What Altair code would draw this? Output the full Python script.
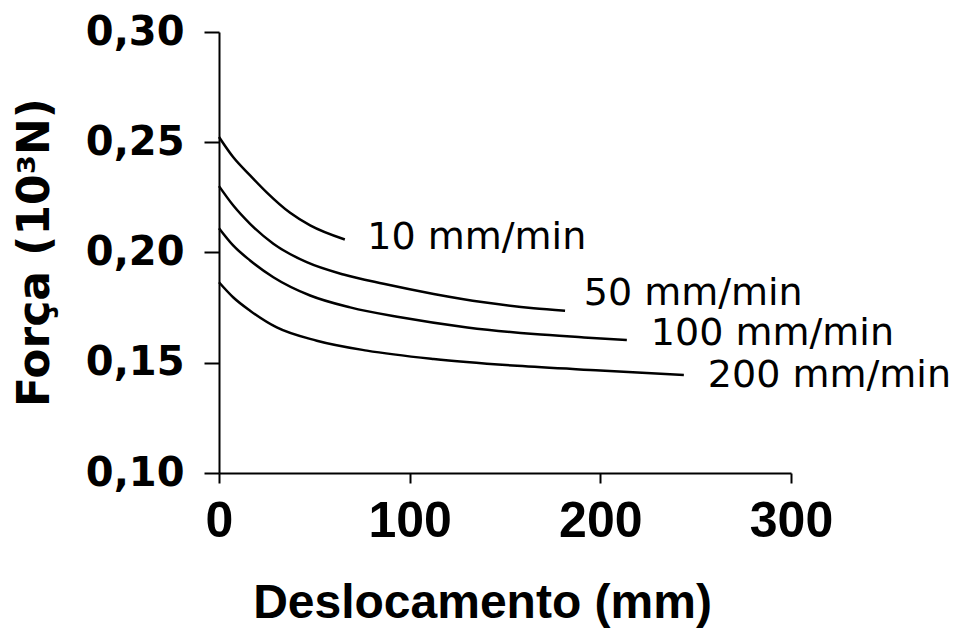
import altair as alt
import pandas as pd

# Curves (x = Deslocamento mm, y = Força 10^3 N)
x10 = [0, 7.4, 16.3, 25, 37.3, 47.8, 66]
y10 = [0.2524, 0.2433, 0.2350, 0.2273, 0.2180, 0.2123, 0.2059]

x50 = [0, 7.4, 16.3, 28.5, 46, 65.3, 86.3, 112.6, 138.9, 165, 181.5]
y50 = [0.2301, 0.2214, 0.213, 0.204, 0.1956, 0.19, 0.1858, 0.1812, 0.1774, 0.1747, 0.1736]

x100 = [0, 7.4, 16.3, 28.5, 47.8, 68.8, 95.1, 130.2, 165.2, 191.4, 213.9]
y100 = [0.211, 0.2032, 0.1964, 0.1888, 0.1805, 0.1751, 0.1706, 0.166, 0.163, 0.1615, 0.1603]

x200 = [0, 7.4, 16.3, 30.3, 51.3, 77.6, 112.6, 156.4, 200, 243.8]
y200 = [0.1865, 0.1797, 0.1736, 0.166, 0.16, 0.1555, 0.1517, 0.1486, 0.1465, 0.1445]

series_names = ["10 mm/min", "50 mm/min", "100 mm/min", "200 mm/min"]
series_x = [x10, x50, x100, x200]
series_y = [y10, y50, y100, y200]

# Label anchor positions (data coordinates)
label_x = [77.8, 191.3, 226.5, 256.4]
label_y = [0.2064, 0.1814, 0.1632, 0.1441]

x_ticks = [0, 100, 200, 300]
y_ticks = [0.10, 0.15, 0.20, 0.25, 0.30]

rows = []
for name, xs, ys in zip(series_names, series_x, series_y):
    for i, (a, b) in enumerate(zip(xs, ys)):
        rows.append({"serie": name, "x": a, "y": b, "order": i})
df = pd.DataFrame(rows)
labels = pd.DataFrame({"serie": series_names, "x": label_x, "y": label_y})

SANS = "Liberation Sans"
WIDE = "DejaVu Sans"

xscale = alt.Scale(domain=[0, 300], nice=False, zero=False)
yscale = alt.Scale(domain=[0.10, 0.30], nice=False, zero=False)

common = dict(
    grid=False, domainColor="black", domainWidth=2, tickColor="black",
    tickWidth=2, labelColor="black", labelFontWeight="bold",
    titleFontWeight="bold", titleColor="black",
    labelFlush=False, labelOverlap=False,
)

lines = alt.Chart(df).mark_line(
    color="black", strokeWidth=2.5, interpolate="monotone"
).encode(
    x=alt.X("x:Q", scale=xscale, axis=alt.Axis(
        values=x_ticks, title="Deslocamento (mm)", tickSize=10,
        labelPadding=13, labelFontSize=50, labelFont=SANS,
        titleFont=SANS, titleFontSize=48,
        titleX=263, titleY=144, titleBaseline="alphabetic", titleAlign="center",
        **common,
    )),
    y=alt.Y("y:Q", scale=yscale, axis=alt.Axis(
        values=y_ticks, title="Força (10³N)", tickSize=15,
        labelPadding=20, labelFontSize=40, labelFont=WIDE,
        labelExpr="replace(format(datum.value, '.2f'), '.', ',')",
        titleFont=WIDE, titleFontSize=44,
        titleX=-171, titleY=220, titleAngle=-90, titleBaseline="alphabetic",
        titleAlign="center",
        **common,
    )),
    detail="serie:N",
    order="order:Q",
)

text = alt.Chart(labels).mark_text(
    align="left", baseline="middle", font=WIDE, fontSize=38, color="black"
).encode(
    x=alt.X("x:Q", scale=xscale),
    y=alt.Y("y:Q", scale=yscale),
    text="serie:N",
)

chart = alt.layer(lines, text).properties(
    width=572, height=441,
    background="white",
    autosize=alt.AutoSizeParams(type="none"),
    padding={"left": 211, "top": 24, "right": 162, "bottom": 160},
).configure_view(stroke=None)

chart.save("out.html", embed_options={"renderer": "svg", "actions": False})
